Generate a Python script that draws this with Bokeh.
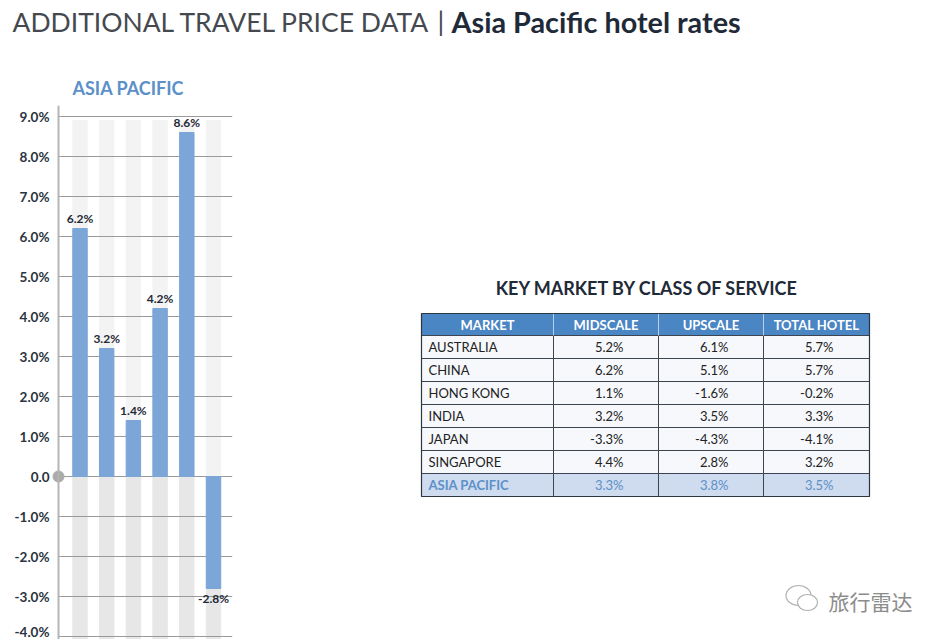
from bokeh.plotting import figure
from bokeh.layouts import column, row
from bokeh.models import Range1d, FixedTicker, Span
from bokeh.core.properties import value
from bokeh.embed import file_html
from bokeh.resources import INLINE

# ---------------- data ----------------
bar_values = [6.2, 3.2, 1.4, 4.2, 8.6, -2.8]
bar_labels = ["6.2%", "3.2%", "1.4%", "4.2%", "8.6%", "-2.8%"]
y_ticks = [-4, -3, -2, -1, 0, 1, 2, 3, 4, 5, 6, 7, 8, 9]
y_tick_labels = ["-4.0%", "-3.0%", "-2.0%", "-1.0%", "0.0", "1.0%", "2.0%",
                 "3.0%", "4.0%", "5.0%", "6.0%", "7.0%", "8.0%", "9.0%"]
bg_top = 8.9
bg_bottom = -4.2

chart_title_regular = "ADDITIONAL TRAVEL PRICE DATA"
chart_title_bold = "Asia Pacific hotel rates"
bar_chart_title = "ASIA PACIFIC"

table_title = "KEY MARKET BY CLASS OF SERVICE"
table_columns = ["MARKET", "MIDSCALE", "UPSCALE", "TOTAL HOTEL"]
markets = ["AUSTRALIA", "CHINA", "HONG KONG", "INDIA", "JAPAN", "SINGAPORE", "ASIA PACIFIC"]
midscale = ["5.2%", "6.2%", "1.1%", "3.2%", "-3.3%", "4.4%", "3.3%"]
upscale = ["6.1%", "5.1%", "-1.6%", "3.5%", "-4.3%", "2.8%", "3.8%"]
total_hotel = ["5.7%", "5.7%", "-0.2%", "3.3%", "-4.1%", "3.2%", "3.5%"]
watermark = "旅行雷达"

# ---------------- styles ----------------
FONT = "Lato"
DARK = "#1f2a38"
BLUE_BAR = "#7ba6d7"
BLUE_TXT = "#5b90c8"
HEADER_FILL = "#4a85c4"

W = 941
TOP_H = 60
BODY_H = 579
BAR_W = 242
FRAME_TOP = 105          # page y of the plot frames' top edge
BORDER_TOP = FRAME_TOP - TOP_H


def clean(p):
    p.axis.visible = False
    p.grid.visible = False
    p.outline_line_color = None
    p.background_fill_color = "white"
    p.border_fill_color = "white"


# ---------------- title strip ----------------
tf = figure(width=W, height=TOP_H, x_range=Range1d(0, W), y_range=Range1d(TOP_H, 0),
            output_backend="svg", toolbar_location=None, title=None,
            min_border_left=0, min_border_right=0, min_border_top=0, min_border_bottom=0)
clean(tf)
tf.text(x=[12], y=[21], text=[chart_title_regular], text_font=value(FONT),
        text_font_size="26.5px", text_color="#45494f", text_baseline="middle")
tf.text(x=[437], y=[20], text=["|"], text_font=value(FONT),
        text_font_size="27px", text_color="#45494f", text_baseline="middle")
tf.text(x=[451], y=[21], text=[chart_title_bold], text_font=value(FONT),
        text_font_size="28.8px", text_font_style="bold", text_color=DARK,
        text_baseline="middle")

# ---------------- bar chart ----------------
X_START, X_END = -0.105, 6.712
AXIS_X = 0.195
bar_pos = list(range(1, len(bar_values) + 1))

bf = figure(width=BAR_W, height=BODY_H, x_range=Range1d(X_START, X_END),
            y_range=Range1d(-4.075, 9.275), output_backend="svg",
            toolbar_location=None, title=bar_chart_title,
            min_border_left=50, min_border_right=10,
            min_border_top=BORDER_TOP, min_border_bottom=0)
bf.title.align = "left"
bf.title.offset = 22
bf.title.standoff = 13
bf.title.text_font = FONT
bf.title.text_font_size = "18px"
bf.title.text_font_style = "bold"
bf.title.text_color = BLUE_TXT
bf.outline_line_color = None
bf.grid.visible = False
bf.xaxis.visible = False
bf.yaxis.ticker = FixedTicker(ticks=y_ticks)
bf.yaxis.major_label_overrides = dict(zip(y_ticks, y_tick_labels))
bf.yaxis.axis_line_color = None
bf.yaxis.major_tick_line_color = None
bf.yaxis.minor_tick_line_color = None
bf.yaxis.major_tick_out = 0
bf.yaxis.major_tick_in = 0
bf.yaxis.major_label_standoff = 1
bf.yaxis.major_label_text_font = FONT
bf.yaxis.major_label_text_font_style = "bold"
bf.yaxis.major_label_text_font_size = "13.5px"
bf.yaxis.major_label_text_color = "#2b3440"

# background columns
bf.vbar(x=bar_pos, bottom=0, top=bg_top, width=0.54, color="#f3f3f3")
bf.vbar(x=bar_pos, bottom=bg_bottom, top=0, width=0.54, color="#e7e7e7")
# grid lines
bf.segment(x0=AXIS_X, x1=X_END, y0=y_ticks, y1=y_ticks, line_color="#9a9a9a", line_width=1)
# bars
bf.vbar(x=bar_pos, bottom=0, top=bar_values, width=0.54, color=BLUE_BAR)
# axis line and origin dot
bf.add_layout(Span(location=AXIS_X, dimension="height", line_color="#b5b5b5", line_width=2))
bf.scatter(x=[AXIS_X], y=[0], size=11, color="#ababab")

pos_x = [x for x, v in zip(bar_pos, bar_values) if v >= 0]
pos_y = [v for v in bar_values if v >= 0]
pos_t = [t for t, v in zip(bar_labels, bar_values) if v >= 0]
neg_x = [x for x, v in zip(bar_pos, bar_values) if v < 0]
neg_y = [v for v in bar_values if v < 0]
neg_t = [t for t, v in zip(bar_labels, bar_values) if v < 0]
bf.text(x=pos_x, y=pos_y, text=pos_t, text_font=value(FONT), text_font_size="12px",
        text_font_style="bold", text_color=DARK, text_align="center",
        text_baseline="bottom", y_offset=-3)
bf.text(x=neg_x, y=neg_y, text=neg_t, text_font=value(FONT), text_font_size="12px",
        text_font_style="bold", text_color=DARK, text_align="center",
        text_baseline="top", y_offset=2)

# ---------------- table ----------------
tb = figure(width=W - BAR_W, height=BODY_H, x_range=Range1d(BAR_W, W),
            y_range=Range1d(TOP_H + BODY_H, FRAME_TOP), output_backend="svg",
            toolbar_location=None, title=None,
            min_border_left=0, min_border_right=0, min_border_top=BORDER_TOP,
            min_border_bottom=0)
clean(tb)

col_edges = [421, 553, 658, 763, 869]
HEAD_TOP, HEAD_BOT, ROW_H = 313, 335, 23
n = len(markets)
row_tops = [HEAD_BOT + i * ROW_H for i in range(n)]
row_bots = [t + ROW_H for t in row_tops]
row_mid = [t + ROW_H / 2 for t in row_tops]
row_fill = ["#f6f8fc"] * (n - 1) + ["#cfdbee"]

tb.text(x=[(col_edges[0] + col_edges[-1]) / 2 + 2], y=[287], text=[table_title],
        text_font=value(FONT), text_font_size="18px", text_font_style="bold",
        text_color=DARK, text_align="center", text_baseline="middle")

# header band and row bands
tb.quad(left=[col_edges[0]], right=[col_edges[-1]], top=[HEAD_TOP], bottom=[HEAD_BOT],
        fill_color=HEADER_FILL, line_color=None)
tb.quad(left=[col_edges[0]] * n, right=[col_edges[-1]] * n, top=row_tops, bottom=row_bots,
        fill_color=row_fill, line_color=None)
# horizontal rules
h_y = [HEAD_BOT] + row_bots[:-1]
tb.segment(x0=col_edges[0], x1=col_edges[-1], y0=h_y, y1=h_y, line_color="#3d4650", line_width=1)
# vertical rules (body)
tb.segment(x0=col_edges[1:-1], x1=col_edges[1:-1], y0=HEAD_BOT, y1=row_bots[-1],
           line_color="#3d4650", line_width=1)
# vertical rules (header)
tb.segment(x0=col_edges[1:-1], x1=col_edges[1:-1], y0=HEAD_TOP, y1=HEAD_BOT,
           line_color="#b9cfe9", line_width=1)
# outer frame
tb.quad(left=[col_edges[0]], right=[col_edges[-1]], top=[HEAD_TOP], bottom=[row_bots[-1]],
        fill_color=None, line_color="#2e3640", line_width=1.2)

col_mid = [(a + b) / 2 for a, b in zip(col_edges[:-1], col_edges[1:])]
tb.text(x=col_mid, y=[(HEAD_TOP + HEAD_BOT) / 2 + 0.5] * 4, text=table_columns,
        text_font=value(FONT), text_font_size="13px", text_font_style="bold",
        text_color="white", text_align="center", text_baseline="middle")

tb.text(x=[col_edges[0] + 7] * (n - 1), y=row_mid[:-1], text=markets[:-1],
        text_font=value(FONT), text_font_size="13px", text_color="#222222",
        text_baseline="middle")
tb.text(x=[col_edges[0] + 7], y=row_mid[-1:], text=markets[-1:],
        text_font=value(FONT), text_font_size="13px", text_font_style="bold",
        text_color=BLUE_TXT, text_baseline="middle")

for ci, vals in enumerate([midscale, upscale, total_hotel], start=1):
    xr = col_edges[ci] + 70
    tb.text(x=[xr] * (n - 1), y=row_mid[:-1], text=vals[:-1], text_font=value(FONT),
            text_font_size="13px", text_color="#222222", text_align="right",
            text_baseline="middle")
    tb.text(x=[xr], y=row_mid[-1:], text=vals[-1:], text_font=value(FONT),
            text_font_size="13px", text_color=BLUE_TXT, text_align="right",
            text_baseline="middle")

# watermark
tb.ellipse(x=[798], y=[595], width=[25], height=[20], fill_color="white",
           line_color="#b0b0b0", line_width=1.2)
tb.ellipse(x=[807], y=[602], width=[20], height=[16], fill_color="white",
           line_color="#b0b0b0", line_width=1.2)
tb.text(x=[828], y=[600], text=[watermark], text_font=value("Noto Sans CJK SC"),
        text_font_size="21px", text_color="#8c8c8c", text_baseline="middle")

layout = column(tf, row(bf, tb))
open("out.html", "w").write(file_html(layout, INLINE))
